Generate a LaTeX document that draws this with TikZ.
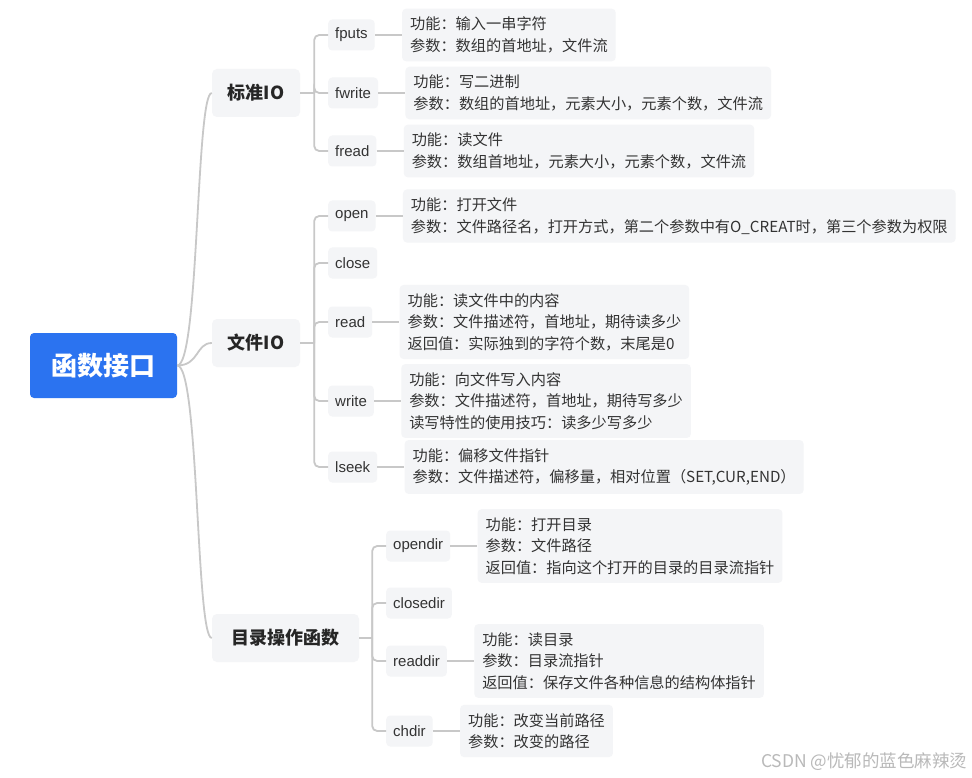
\documentclass[tikz,border=0pt]{standalone}
\usepackage{fontspec}
\setmainfont{Noto Sans CJK SC}
\newfontfamily\funcfont{Liberation Sans}
\usetikzlibrary{positioning}

\definecolor{rootblue}{RGB}{43,115,240}
\definecolor{boxgray}{RGB}{244,245,247}
\definecolor{linegray}{RGB}{200,200,200}
\definecolor{textdark}{RGB}{38,38,38}
\definecolor{textgray}{RGB}{51,51,51}
\definecolor{markgray}{RGB}{185,185,185}

\begin{document}
\begin{tikzpicture}[x=1pt, y=-1pt, node distance=27pt,
    conn/.style={draw=linegray, line width=1.8pt},
    branch/.style={conn, rounded corners=5pt},
    rootbox/.style={rectangle, rounded corners=4pt, fill=rootblue, text=white, font=\fontsize{26}{30}\selectfont\bfseries, minimum width=147pt, minimum height=65pt, inner sep=0pt},
    topic/.style={rectangle, rounded corners=5pt, fill=boxgray, text=textdark, font=\fontsize{18}{22}\selectfont\bfseries, minimum height=48pt, inner sep=0pt},
    func/.style={rectangle, rounded corners=4pt, fill=boxgray, text=textgray, font=\funcfont\fontsize{15}{17}\selectfont, minimum height=31pt, inner xsep=7pt, anchor=west},
    info/.style={rectangle, rounded corners=4pt, fill=boxgray, text=textgray, font=\fontsize{15.2}{21.5}\selectfont, align=left, inner xsep=8pt, inner ysep=8.3pt}]

    \fill[white] (0,0) rectangle (972,778);
    \useasboundingbox (0,0) rectangle (972,778);

    % centre and main topics
    \node[rootbox] (root) at (103.5,365.5) {函数接口};
    \node[topic, minimum width=88pt] (stdio) at (256,93) {标准IO};
    \node[topic, minimum width=88pt] (fileio) at (256,343) {文件IO};
    \node[topic, minimum width=147pt] (dirops) at (285.5,638) {目录操作函数};

    % functions
    \node[func] (fputs) at (328,35) {fputs};
    \node[func] (fwrite) at (328,93) {fwrite};
    \node[func] (fread) at (328,151) {fread};
    \node[func] (open) at (328,216) {open};
    \node[func] (close) at (328,263) {close};
    \node[func] (read) at (328,322) {read};
    \node[func] (write) at (328,401) {write};
    \node[func] (lseek) at (328,467) {lseek};
    \node[func] (opendir) at (386,546) {opendir};
    \node[func] (closedir) at (386,603) {closedir};
    \node[func] (readdir) at (386,661) {readdir};
    \node[func] (chdir) at (386,731) {chdir};

    % details
    \node[info] (info-fputs) [right=of fputs] {功能：输入一串字符\\参数：数组的首地址，文件流};
    \node[info] (info-fwrite) [right=of fwrite] {功能：写二进制\\参数：数组的首地址，元素大小，元素个数，文件流};
    \node[info] (info-fread) [right=of fread] {功能：读文件\\参数：数组首地址，元素大小，元素个数，文件流};
    \node[info] (info-open) [right=of open] {功能：打开文件\\参数：文件路径名，打开方式，第二个参数中有O\_CREAT时，第三个参数为权限};
    \node[info] (info-read) [right=of read] {功能：读文件中的内容\\参数：文件描述符，首地址，期待读多少\\返回值：实际独到的字符个数，末尾是0};
    \node[info] (info-write) [right=of write] {功能：向文件写入内容\\参数：文件描述符，首地址，期待写多少\\读写特性的使用技巧：读多少写多少};
    \node[info] (info-lseek) [right=of lseek] {功能：偏移文件指针\\参数：文件描述符，偏移量，相对位置（SET,CUR,END）};
    \node[info] (info-opendir) [right=of opendir] {功能：打开目录\\参数：文件路径\\返回值：指向这个打开的目录的目录流指针};
    \node[info] (info-readdir) [right=of readdir] {功能：读目录\\参数：目录流指针\\返回值：保存文件各种信息的结构体指针};
    \node[info] (info-chdir) [right=of chdir] {功能：改变当前路径\\参数：改变的路径};

    \node[font=\fontsize{17.5}{20}\selectfont, text=markgray, anchor=east] (mark) at (971,762) {CSDN @忧郁的蓝色麻辣烫};

    % curves from the centre
    \foreach \t in {stdio,fileio,dirops}
        \draw[conn] (root.east) .. controls +(22,0) and +(-16,0) .. (\t.west);

    % trunks
    \coordinate (stdtrunk) at ([xshift=14pt]stdio.east);
    \coordinate (filetrunk) at ([xshift=14pt]fileio.east);
    \coordinate (dirtrunk) at ([xshift=13pt]dirops.east);
    \draw[conn] (stdio.east) -- (stdtrunk);
    \draw[conn] (fileio.east) -- (filetrunk);
    \draw[conn] (dirops.east) -- (dirtrunk);
    \foreach \f in {fputs,fwrite,fread}
        \draw[branch] (stdtrunk) |- (\f.west);
    \foreach \f in {open,close,read,write,lseek}
        \draw[branch] (filetrunk) |- (\f.west);
    \foreach \f in {opendir,closedir,readdir,chdir}
        \draw[branch] (dirtrunk) |- (\f.west);

    % to the details
    \foreach \f in {fputs,fwrite,fread,open,read,write,lseek,opendir,readdir,chdir}
        \draw[conn] (\f.east) -- (info-\f.west);

\end{tikzpicture}
\end{document}
